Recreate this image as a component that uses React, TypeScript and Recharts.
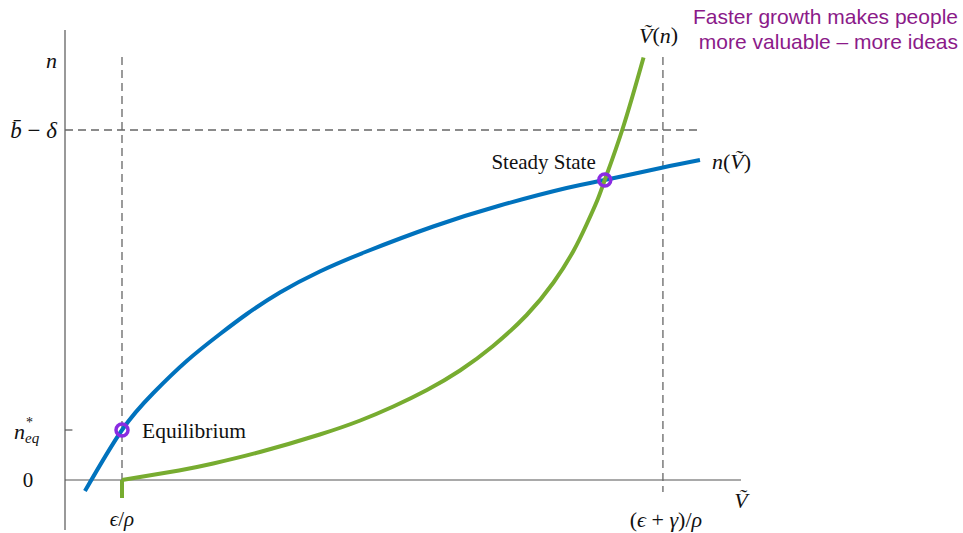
import React from 'react';
import { LineChart, Line, XAxis, YAxis, ReferenceLine, ReferenceDot } from 'recharts';

// n(V~): concave curve
const blueV = [0.35, 1.0, 1.55, 2.135, 2.72, 3.19, 3.77, 4.47, 5.29, 6.46, 7.63, 8.8, 9.47, 10.45, 11.14];
const blueN = [-0.22, 1.0, 1.74, 2.38, 2.92, 3.32, 3.75, 4.17, 4.57, 5.07, 5.49, 5.84, 6.0, 6.24, 6.4];

// V~(n): convex curve, plus the short stub below the axis at eps/rho
const greenV = [1.0, 2.0, 2.6, 3.42, 4.47, 5.18, 5.76, 6.35, 6.93, 7.51, 8.1, 8.57, 8.92, 9.15, 9.33, 9.47, 9.79, 10.15];
const greenN = [0, 0.19, 0.33, 0.56, 0.91, 1.19, 1.47, 1.8, 2.19, 2.68, 3.3, 3.95, 4.58, 5.11, 5.57, 6.0, 7.05, 8.45];
const stubV = [1.0, 1.0];
const stubN = [-0.36, 0];

const epsRho = 1.0;
const epsGammaRho = 10.49;
const nEq = 1;
const bMinusDelta = 7;
const nTop = 8.4;
const axisEnd = 11.86;
const dashEnd = 11.14;
const dashTop = 8.46;
const dashBottom = -0.24;

const equilibrium = { V: 1.0, n: 1.0 };
const steadyState = { V: 9.47, n: 6.0 };

const xTicks = [epsRho, epsGammaRho];
const yTicks = [0, nEq, bMinusDelta, nTop];

const blueData = blueV.map((V, i) => ({ V, n: blueN[i] }));
const greenData = greenV.map((V, i) => ({ V, n: greenN[i] }));
const stubData = stubV.map((V, i) => ({ V, n: stubN[i] }));

const SERIF = '"Liberation Serif", "Times New Roman", serif';
const BLUE = '#0072BD';
const GREEN = '#77AC30';
const PURPLE = '#8A2BE2';
const GREY = '#666';

const dotLabel =
  (text: React.ReactNode, dx: number, dy: number, anchor: 'start' | 'middle' | 'end', size: number, italic = false) =>
  (props: any) => {
    const vb = props.viewBox || {};
    const cx = (vb.x ?? 0) + (vb.width ?? 0) / 2;
    const cy = (vb.y ?? 0) + (vb.height ?? 0) / 2;
    return (
      <text
        x={cx + dx}
        y={cy + dy}
        textAnchor={anchor}
        dominantBaseline="central"
        fontFamily={SERIF}
        fontSize={size}
        fontStyle={italic ? 'italic' : 'normal'}
        fill="#111"
      >
        {text}
      </text>
    );
  };

const YTick = (props: any) => {
  const { x, y, payload } = props;
  const v = payload.value;
  const common = { fontFamily: SERIF, fill: '#111', dominantBaseline: 'central' as const };
  if (v === 0) {
    return <text x={x - 29} y={y} textAnchor="middle" fontSize={21} {...common}>0</text>;
  }
  if (v === nEq) {
    return (
      <text x={x - 43} y={y + 1} textAnchor="start" fontSize={22} fontStyle="italic" {...common}>
        <tspan>n</tspan>
        <tspan fontSize={14} fontStyle="normal" dx={1} dy={-9}>*</tspan>
        <tspan fontSize={15} dx={-8} dy={16}>eq</tspan>
      </text>
    );
  }
  if (v === bMinusDelta) {
    return (
      <text x={x} y={y} textAnchor="end" fontSize={23} {...common}>
        <tspan fontStyle="italic">{'b\u0304'}</tspan>
        <tspan> − </tspan>
        <tspan fontStyle="italic">δ</tspan>
      </text>
    );
  }
  return <text x={x} y={y} textAnchor="end" fontSize={22} fontStyle="italic" {...common}>n</text>;
};

const XTick = (props: any) => {
  const { x, y, payload } = props;
  const first = payload.value === epsRho;
  return (
    <text x={x + (first ? 0 : 3)} y={y - 19} textAnchor="middle" dominantBaseline="central"
      fontFamily={SERIF} fontSize={first ? 21 : 22} fill="#111">
      {first ? (
        <>
          <tspan fontStyle="italic">ϵ</tspan>/<tspan fontStyle="italic">ρ</tspan>
        </>
      ) : (
        <>
          (<tspan fontStyle="italic">ϵ</tspan> + <tspan fontStyle="italic">γ</tspan>)/<tspan fontStyle="italic">ρ</tspan>
        </>
      )}
    </text>
  );
};

export default function App() {
  return (
    <div style={{ position: 'absolute', left: 0, top: 0, width: 963, height: 533, background: '#fff' }}>
      <LineChart width={963} height={533} margin={{ top: 30, right: 214, bottom: 0, left: 0 }}>
        <XAxis dataKey="V" type="number" domain={[0, 12]} ticks={xTicks} interval={0}
          axisLine={false} tickLine={false} height={3} tick={<XTick />} allowDataOverflow />
        <YAxis type="number" domain={[-1, 9]} ticks={yTicks} interval={0} width={65}
          axisLine={false} tickLine={false} tick={<YTick />} allowDataOverflow />

        {/* axes */}
        <ReferenceLine segment={[{ x: 0, y: -1 }, { x: 0, y: 9 }]} stroke="#555" strokeWidth={1.2} />
        <ReferenceLine segment={[{ x: 0, y: 0 }, { x: axisEnd, y: 0 }]} stroke="#555" strokeWidth={1.2} />
        <ReferenceLine segment={[{ x: 0, y: nEq }, { x: 0.13, y: nEq }]} stroke="#555" strokeWidth={1.2} />

        {/* dashed guides */}
        <ReferenceLine segment={[{ x: 0, y: bMinusDelta }, { x: dashEnd, y: bMinusDelta }]}
          stroke={GREY} strokeWidth={1.3} strokeDasharray="8 5" />
        <ReferenceLine segment={[{ x: epsRho, y: dashTop }, { x: epsRho, y: dashBottom }]}
          stroke={GREY} strokeWidth={1.3} strokeDasharray="8 5" />
        <ReferenceLine segment={[{ x: epsGammaRho, y: dashTop }, { x: epsGammaRho, y: dashBottom }]}
          stroke={GREY} strokeWidth={1.3} strokeDasharray="8 5" />

        <Line data={blueData} dataKey="n" type="natural" stroke={BLUE} strokeWidth={4} dot={false} isAnimationActive={false} />
        <Line data={greenData} dataKey="n" type="natural" stroke={GREEN} strokeWidth={4} dot={false} isAnimationActive={false} />
        <Line data={stubData} dataKey="n" type="linear" stroke={GREEN} strokeWidth={4} dot={false} isAnimationActive={false} />

        <ReferenceDot x={equilibrium.V} y={equilibrium.n} r={6} fill="none" stroke={PURPLE} strokeWidth={3.5}
          label={dotLabel('Equilibrium', 20, 1, 'start', 21.5)} />
        <ReferenceDot x={steadyState.V} y={steadyState.n} r={6} fill="none" stroke={PURPLE} strokeWidth={3.5}
          label={dotLabel('Steady State', -9, -18, 'end', 21)} />

        <ReferenceDot x={greenV[greenV.length - 1]} y={greenN[greenN.length - 1]} r={1} fill="none" stroke="none"
          label={dotLabel(<><tspan fontStyle="italic">{'V\u0303'}</tspan>(<tspan fontStyle="italic">n</tspan>)</>, 15, -23, 'middle', 22)} />
        <ReferenceDot x={blueV[blueV.length - 1]} y={blueN[blueN.length - 1]} r={1} fill="none" stroke="none"
          label={dotLabel(<><tspan fontStyle="italic">n</tspan>(<tspan fontStyle="italic">{'V\u0303'}</tspan>)</>, 12, 1, 'start', 22)} />
        <ReferenceDot x={axisEnd} y={0} r={1} fill="none" stroke="none"
          label={dotLabel('V\u0303', 0, 20, 'middle', 22, true)} />
      </LineChart>
      <div style={{ position: 'absolute', right: 5, top: 4, textAlign: 'right', fontFamily: '"Liberation Sans", Arial, sans-serif',
        fontSize: 21, lineHeight: '25px', color: '#8B1A89' }}>
        Faster growth makes people<br />more valuable – more ideas
      </div>
    </div>
  );
}
